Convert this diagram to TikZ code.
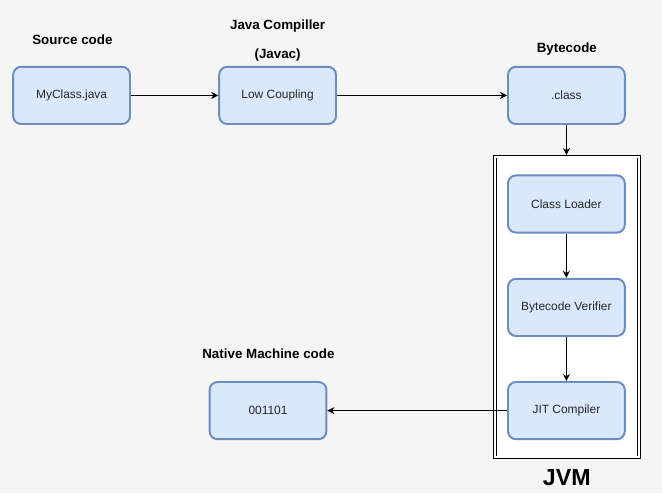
\documentclass[tikz,border=0pt]{standalone}
\usepackage{fontspec}
\setmainfont{Liberation Sans}
\usetikzlibrary{arrows.meta}

\definecolor{boxfill}{HTML}{DAE8FC}
\definecolor{boxline}{HTML}{6C8EBF}
\definecolor{bggray}{HTML}{F5F5F5}

\begin{document}
\begin{tikzpicture}[
	stage/.style={draw=boxline, fill=boxfill, line width=1.4pt, rounded corners=0.2cm,
		minimum width=2.92cm, minimum height=1.43cm, text=black!85,
		font=\fontsize{8.5}{10}\selectfont},
	caption/.style={font=\fontsize{9.5}{11}\selectfont\bfseries},
	flow/.style={-{Stealth[length=5pt,width=5pt]}, line width=0.6pt}
]
	
	\fill [bggray] (0,0) rectangle (16.55,12.325);
	\useasboundingbox (0,0) rectangle (16.55,12.325);
	
	% JVM frame
	\draw [fill=white, line width=0.6pt, double=white, double distance=1.4pt] (12.37,0.89) rectangle (15.975,8.41);
	\node [font=\fontsize{16.5}{18}\selectfont\bfseries] (jvm) at (14.17,0.375) {JVM};
	
	% captions
	\node [caption] (srclabel) at (1.81,11.34) {Source code};
	\node [caption] (javaclabel) at (6.94,11.675) {Java Compiller};
	\node [caption] (javacsub) at (6.94,10.95) {(Javac)};
	\node [caption] (bytelabel) at (14.17,11.1) {Bytecode};
	\node [caption] (nativelabel) at (6.71,3.47) {Native Machine code};
	
	% boxes
	\node [stage] (myclass) at (1.79,9.94) {MyClass.java};
	\node [stage] (coupling) at (6.94,9.94) {Low Coupling};
	\node [stage] (classfile) at (14.16,9.94) {.class};
	
	\node [stage] (loader) at (14.16,7.225) {Class Loader};
	\node [stage] (verifier) at (14.16,4.64) {Bytecode Verifier};
	\node [stage] (jit) at (14.16,2.06) {JIT Compiler};
	
	\node [stage] (binary) at (6.7,2.06) {001101};
	
	\coordinate (jvmtop) at (14.16,8.45);
	
	% arrows
	\draw [flow] (myclass) -- (coupling);
	\draw [flow] (coupling) -- (classfile);
	\draw [flow] (classfile) -- (jvmtop);
	\draw [flow] (loader) -- (verifier);
	\draw [flow] (verifier) -- (jit);
	\draw [flow] (jit) -- (binary);
	
\end{tikzpicture}
\end{document}
